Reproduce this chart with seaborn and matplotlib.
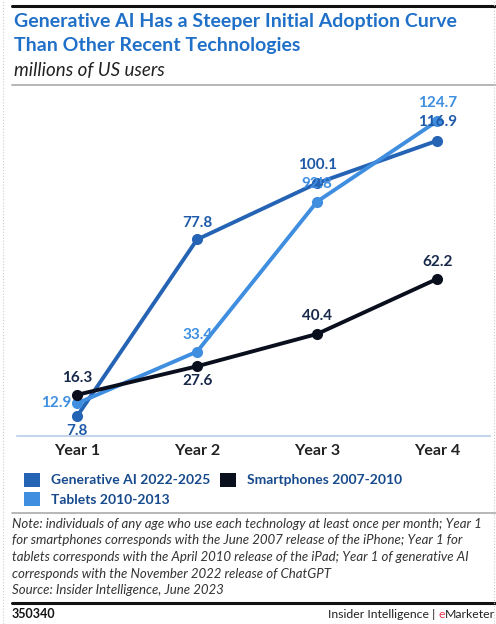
import matplotlib
matplotlib.use("Agg")
import matplotlib.pyplot as plt
import seaborn as sns
import pandas as pd
from matplotlib.lines import Line2D
from matplotlib.patches import Patch

years = ["Year 1", "Year 2", "Year 3", "Year 4"]
series_names = ["Generative AI 2022-2025", "Tablets 2010-2013", "Smartphones 2007-2010"]
gen_ai = [7.8, 77.8, 100.1, 116.9]
tablets = [12.9, 33.4, 92.8, 124.7]
smartphones = [16.3, 27.6, 40.4, 62.2]
tablet_labels = ["12.9", "33.4", "92!8", "124.7"]

colors = {"Generative AI 2022-2025": "#2563B5",
          "Tablets 2010-2013": "#3F8EE0",
          "Smartphones 2007-2010": "#0A0F1E"}
label_colors = {"Generative AI 2022-2025": "#1F5AA8",
                "Tablets 2010-2013": "#3F8EE0",
                "Smartphones 2007-2010": "#17284A"}

rows = []
for name, vals in zip(series_names, [gen_ai, tablets, smartphones]):
    for i, (y, v) in enumerate(zip(years, vals)):
        rows.append({"year": y, "idx": i, "series": name, "value": v})
df = pd.DataFrame(rows)

sns.set_theme(style="white")
plt.rcParams["font.family"] = ["Lato", "DejaVu Sans"]

fig = plt.figure(figsize=(4.96, 6.24), dpi=100)
ax = fig.add_axes([17/496, 1-436/624, (490-17)/496, (436-95)/624])

sns.lineplot(data=df, x="idx", y="value", hue="series", hue_order=series_names,
             palette=colors, marker="o", markersize=8, markeredgewidth=0,
             linewidth=2.8, ax=ax, legend=False)

ax.set_xlim(-0.5, 3.44)
ax.set_ylim(0, 135)
for s in ["top", "right", "left"]:
    ax.spines[s].set_visible(False)
ax.spines["bottom"].set_color("#B8CCE8")
ax.spines["bottom"].set_linewidth(1.2)
ax.set_yticks([])
ax.set_xticks(range(len(years)))
ax.set_xticklabels(years, fontsize=11.5, fontweight="bold", color="#222222")
ax.tick_params(axis="x", length=0, pad=6)
ax.set_xlabel("")
ax.set_ylabel("")

# data labels: (dx px, dy px)
offsets = {
    "Generative AI 2022-2025": [(0, -15), (0, 16), (0, 18), (0, 19)],
    "Tablets 2010-2013": [(-21, 0), (0, 17), (0, 18), (0, 18)],
    "Smartphones 2007-2010": [(0, 17), (0, -15), (0, 18), (0, 17)],
}
label_texts = {
    "Generative AI 2022-2025": [f"{v:.1f}" for v in gen_ai],
    "Tablets 2010-2013": tablet_labels,
    "Smartphones 2007-2010": [f"{v:.1f}" for v in smartphones],
}
for name, vals in zip(series_names, [gen_ai, tablets, smartphones]):
    for i, v in enumerate(vals):
        dx, dy = offsets[name][i]
        ax.annotate(label_texts[name][i], (i, v), xytext=(dx * 0.72, dy * 0.72),
                    textcoords="offset points", ha="center", va="center",
                    fontsize=11, fontweight="bold", color=label_colors[name],
                    zorder=5)

# legend
handles = [Patch(facecolor=colors[n], edgecolor="none") for n in series_names]
leg = fig.legend(handles, series_names, loc="upper left",
                 bbox_to_anchor=(14/496, 1-463/624), ncol=2, frameon=False,
                 handlelength=1.15, handleheight=1.15, handletextpad=0.8,
                 columnspacing=0.7, labelspacing=0.4, borderpad=0.2,
                 prop={"weight": "bold", "size": 10})
for t in leg.get_texts():
    t.set_color("#174A8C")

# titles
fig.text(14/496, 1-22/624, "Generative AI Has a Steeper Initial Adoption Curve",
         fontsize=14, fontweight="bold", color="#2070C8", va="center", ha="left")
fig.text(14/496, 1-46/624, "Than Other Recent Technologies",
         fontsize=14, fontweight="bold", color="#2070C8", va="center", ha="left")
fig.text(14/496, 1-71/624, "millions of US users",
         fontsize=13.5, style="italic", color="#222222", va="center", ha="left")

# rules
fig.add_artist(Line2D([12/496, 1], [1-6/624, 1-6/624], color="#111111", linewidth=2.2))
fig.add_artist(Line2D([12/496, 1], [1-85/624, 1-85/624], color="#AAAAAA", linewidth=1.2))
fig.add_artist(Line2D([12/496, 1], [1-513/624, 1-513/624], color="#AAAAAA", linewidth=1.2))
fig.add_artist(Line2D([12/496, 1], [1-603/624, 1-603/624], color="#111111", linewidth=2.2))
fig.add_artist(Line2D([3/496, 3/496], [0, 1], color="#CCCCCC", linewidth=0.8, linestyle=":"))
fig.add_artist(Line2D([494/496, 494/496], [0, 1], color="#CCCCCC", linewidth=0.8, linestyle=":"))

notes = ["Note: individuals of any age who use each technology at least once per month; Year 1",
         "for smartphones corresponds with the June 2007 release of the iPhone; Year 1 for",
         "tablets corresponds with the April 2010 release of the iPad; Year 1 of generative AI",
         "corresponds with the November 2022 release of ChatGPT",
         "Source: Insider Intelligence, June 2023"]
for k, line in enumerate(notes):
    fig.text(12/496, 1-(524 + k*16.5)/624, line, fontsize=9.5, style="italic",
             color="#333333", va="center", ha="left")

fig.text(12/496, 1-614/624, "350340", fontsize=9, fontweight="bold",
         color="#111111", va="center", ha="left")
rend = fig.canvas.get_renderer()
t3 = fig.text(495/496, 1-614/624, "Marketer", fontsize=8.8,
              color="#222222", va="center", ha="right")
bb3 = t3.get_window_extent(renderer=rend)
t2 = fig.text(bb3.x0 / fig.bbox.width, 1-614/624, "e", fontsize=8.8,
              color="#E8344E", va="center", ha="right")
bb2 = t2.get_window_extent(renderer=rend)
fig.text(bb2.x0 / fig.bbox.width, 1-614/624, "Insider Intelligence | ", fontsize=8.8,
         color="#222222", va="center", ha="right")

fig.savefig("out.png", dpi=100)
